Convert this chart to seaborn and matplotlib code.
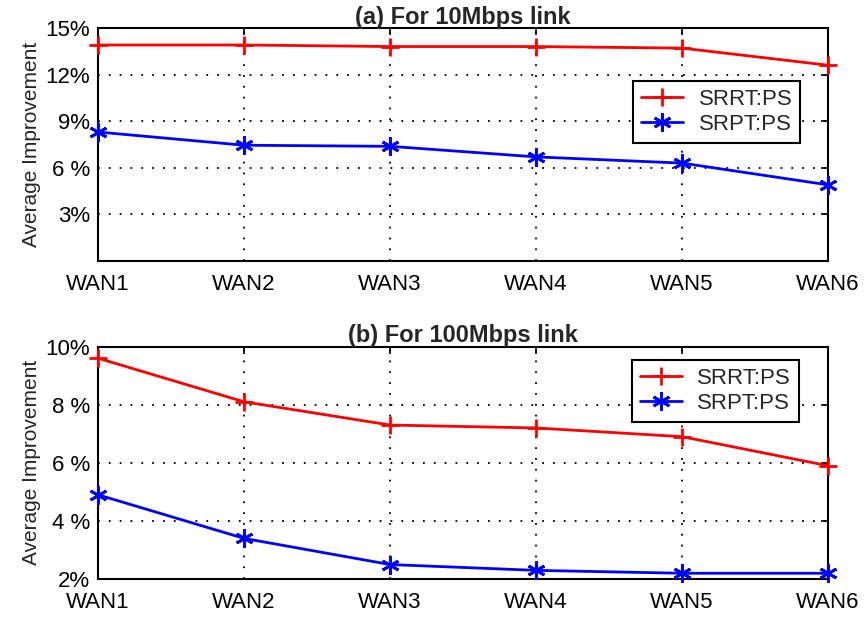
import numpy as np
import pandas as pd
import matplotlib
matplotlib.use('Agg')
import matplotlib.pyplot as plt
import seaborn as sb

wans = ['WAN1', 'WAN2', 'WAN3', 'WAN4', 'WAN5', 'WAN6']
series = ['SRRT:PS', 'SRPT:PS']

# (a) 10Mbps link
srrt_10 = [13.9, 13.9, 13.8, 13.8, 13.7, 12.6]
srpt_10 = [8.3, 7.45, 7.38, 6.7, 6.3, 4.9]
# (b) 100Mbps link
srrt_100 = [9.6, 8.1, 7.3, 7.2, 6.9, 5.9]
srpt_100 = [4.9, 3.4, 2.5, 2.3, 2.2, 2.2]

yticks_a = [3, 6, 9, 12, 15]
ylabels_a = ['3%', '6 %', '9%', '12%', '15%']
yticks_b = [2, 4, 6, 8, 10]
ylabels_b = ['2%', '4 %', '6 %', '8 %', '10%']

sb.set_style('white')
plt.rcParams['font.family'] = ['Liberation Sans', 'DejaVu Sans']

fig = plt.figure(figsize=(8.68, 6.2), dpi=100)
ax1 = fig.add_axes([0.113, 0.579, 0.841, 0.376])
ax2 = fig.add_axes([0.113, 0.066, 0.841, 0.375])

palette = {'SRRT:PS': '#ff0000', 'SRPT:PS': '#0000ff'}
markers = {'SRRT:PS': '+', 'SRPT:PS': (6, 2, 0)}


def draw(ax, a, b, title, ylim, yticks, ylabels, anchor):
    df = pd.DataFrame({
        'pos': list(range(len(wans))) * 2,
        'val': a + b,
        'series': [series[0]] * len(wans) + [series[1]] * len(wans),
    })
    sb.lineplot(data=df, x='pos', y='val', hue='series', style='series',
                palette=palette, markers=markers, dashes=False,
                markersize=13, markeredgewidth=2, linewidth=2, ax=ax,
                legend=False)
    lines = ax.lines[:2]
    for ln in lines:
        ln.set_markeredgecolor(ln.get_color())
        ln.set_markerfacecolor(ln.get_color())
        ln.set_clip_on(False)
        ln.set_zorder(5)
    ax.set_xlim(0, len(wans) - 1)
    ax.set_ylim(*ylim)
    ax.set_xticks(range(len(wans)))
    ax.set_xticklabels(wans, fontsize=16)
    ax.set_yticks(yticks)
    ax.set_yticklabels(ylabels, fontsize=16)
    ax.set_xlabel('')
    ax.set_ylabel('Average Improvement', fontsize=15, labelpad=3)
    ax.set_title(title, fontsize=17, fontweight='bold', pad=3)
    ax.grid(True, color='black', linestyle=(0, (1, 5)), linewidth=1.3)
    ax.tick_params(direction='in', top=True, right=True, length=5, width=1.2, colors='black')
    ax.tick_params(axis='x', pad=9)
    ax.tick_params(axis='y', pad=6)
    for s in ax.spines.values():
        s.set_color('black')
        s.set_linewidth(1.5)
    leg = ax.legend(lines, series, loc='upper right', bbox_to_anchor=anchor, fontsize=16,
                    frameon=True, fancybox=False, edgecolor='black', framealpha=1,
                    borderpad=0.35, borderaxespad=0, handlelength=1.9, labelspacing=0.2,
                    handletextpad=0.7)
    leg.get_frame().set_linewidth(1.5)
    leg.set_zorder(10)


draw(ax1, srrt_10, srpt_10, '(a) For 10Mbps link', (0, 15), yticks_a, ylabels_a, (0.962, 0.773))
draw(ax2, srrt_100, srpt_100, '(b) For 100Mbps link', (2, 10), yticks_b, ylabels_b, (0.96, 0.943))

fig.savefig('out.png', dpi=100)
